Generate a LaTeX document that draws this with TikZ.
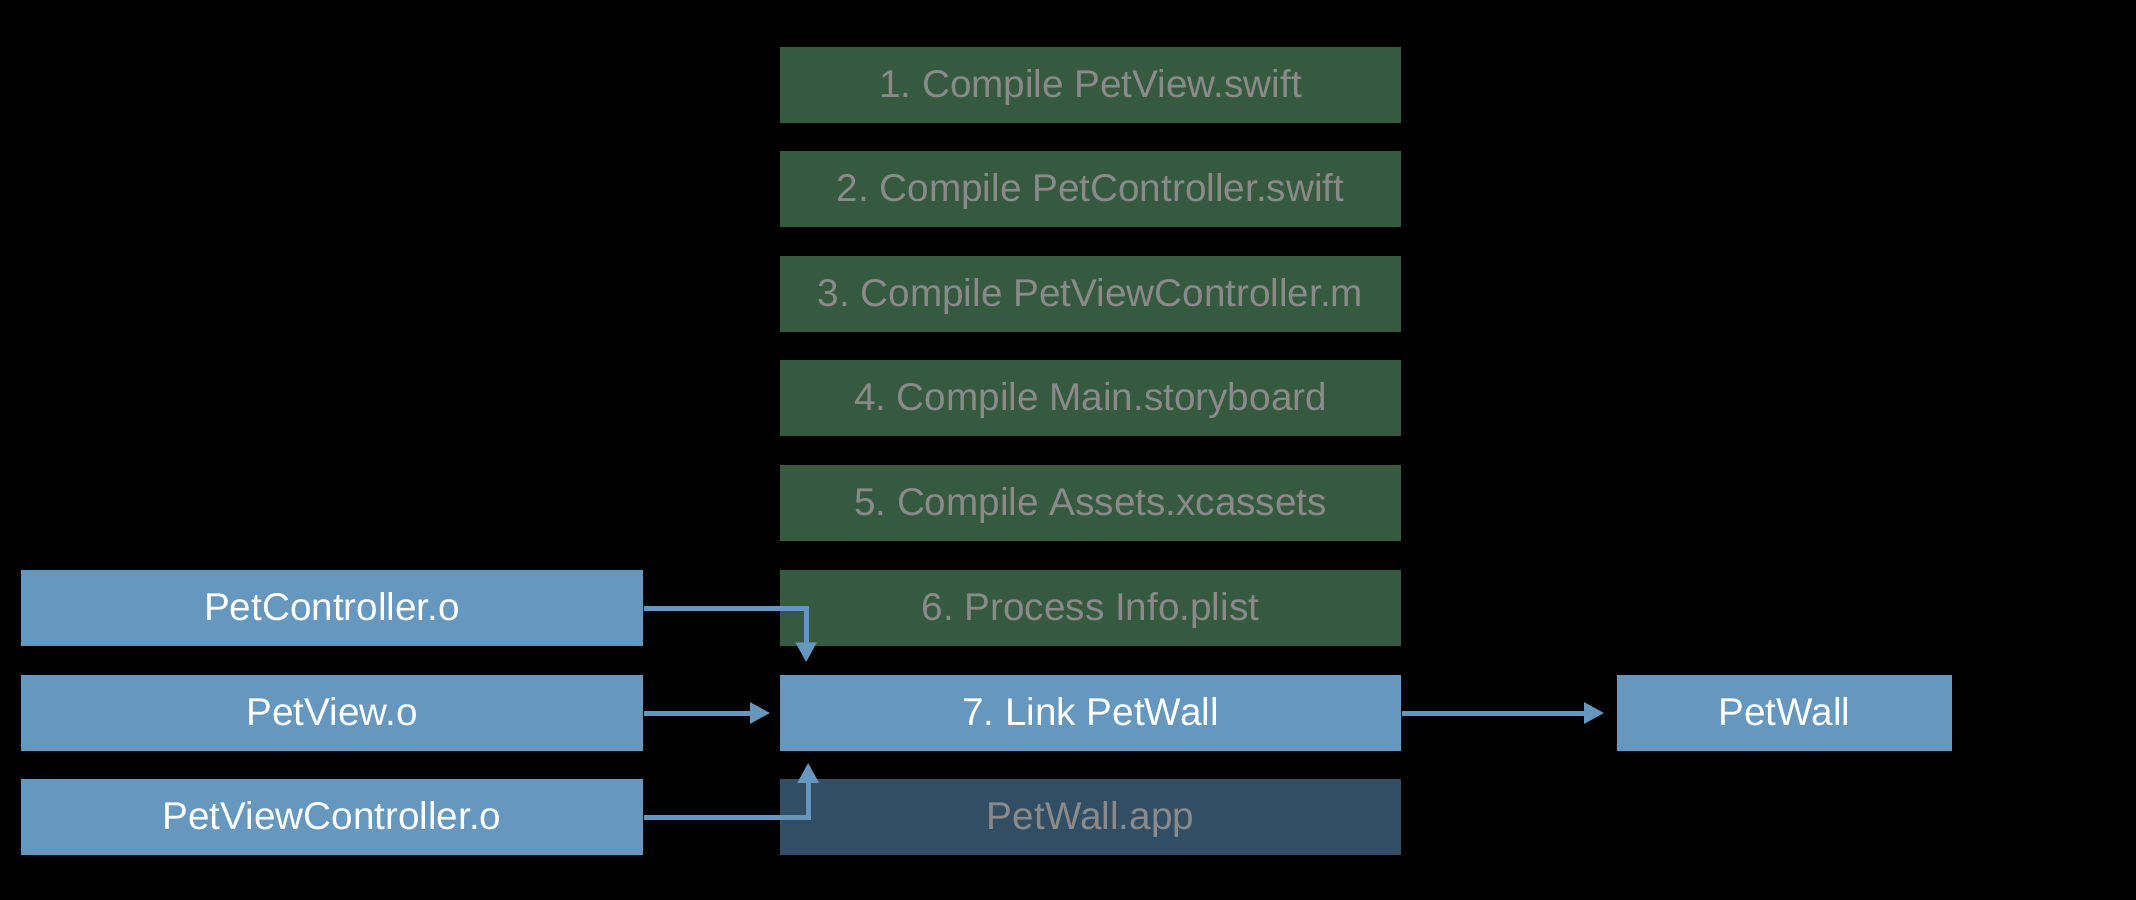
\documentclass[tikz,border=0pt]{standalone}
\usepackage{fontspec}
\setmainfont{Liberation Sans}
\usetikzlibrary{arrows.meta}
\definecolor{objblue}{RGB}{101,151,191}
\definecolor{stepgreen}{RGB}{54,90,64}
\definecolor{appblue}{RGB}{50,78,100}
\definecolor{dimtext}{RGB}{138,138,138}
\frenchspacing

\begin{document}
\begin{tikzpicture}[x=0.01cm,y=-0.01cm,
    box/.style={minimum width=6.21cm,minimum height=0.76cm,inner sep=0pt,
      text height=0.716em,text depth=0pt,
      font=\fontsize{11pt}{13pt}\selectfont},
    done/.style={box,fill=stepgreen,text=dimtext},
    file/.style={box,fill=objblue,text=white},
    flow/.style={draw=objblue,line width=0.05cm,-{Triangle[length=0.2cm,width=0.2cm]}}]
      \fill[black] (0,0) rectangle (2136,900);
      \node[done] (s1) at (1090.5,85) {1. Compile PetView.swift};
      \node[done] (s2) at (1090.5,189) {2. Compile PetController.swift};
      \node[done] (s3) at (1090.5,294) {3. Compile PetViewController.m};
      \node[done] (s4) at (1090.5,398) {4. Compile Main.storyboard};
      \node[done] (s5) at (1090.5,503) {5. Compile Assets.xcassets};
      \node[done] (s6) at (1090.5,608) {6. Process Info.plist};
      \node[file] (link) at (1090.5,713) {7. Link PetWall};
      \node[box,fill=appblue,text=dimtext] (app) at (1090.5,817) {PetWall.app};
      \node[file,minimum width=6.22cm] (pc) at (332,608) {PetController.o};
      \node[file,minimum width=6.22cm] (pv) at (332,713) {PetView.o};
      \node[file,minimum width=6.22cm] (pvc) at (332,817) {PetViewController.o};
      \node[file,minimum width=3.35cm] (out) at (1784.5,713) {PetWall};
      \draw[flow,shorten >=0.12cm] (pc.east) -| ([xshift=0.27cm]link.north west);
      \draw[flow,shorten >=0.09cm] (pv.east) -- (link.west);
      \draw[flow,shorten >=0.11cm] (pvc.east) -| ([xshift=0.29cm]link.south west);
      \draw[flow,shorten >=0.12cm] (link.east) -- (out.west);
    \end{tikzpicture}
\end{document}
